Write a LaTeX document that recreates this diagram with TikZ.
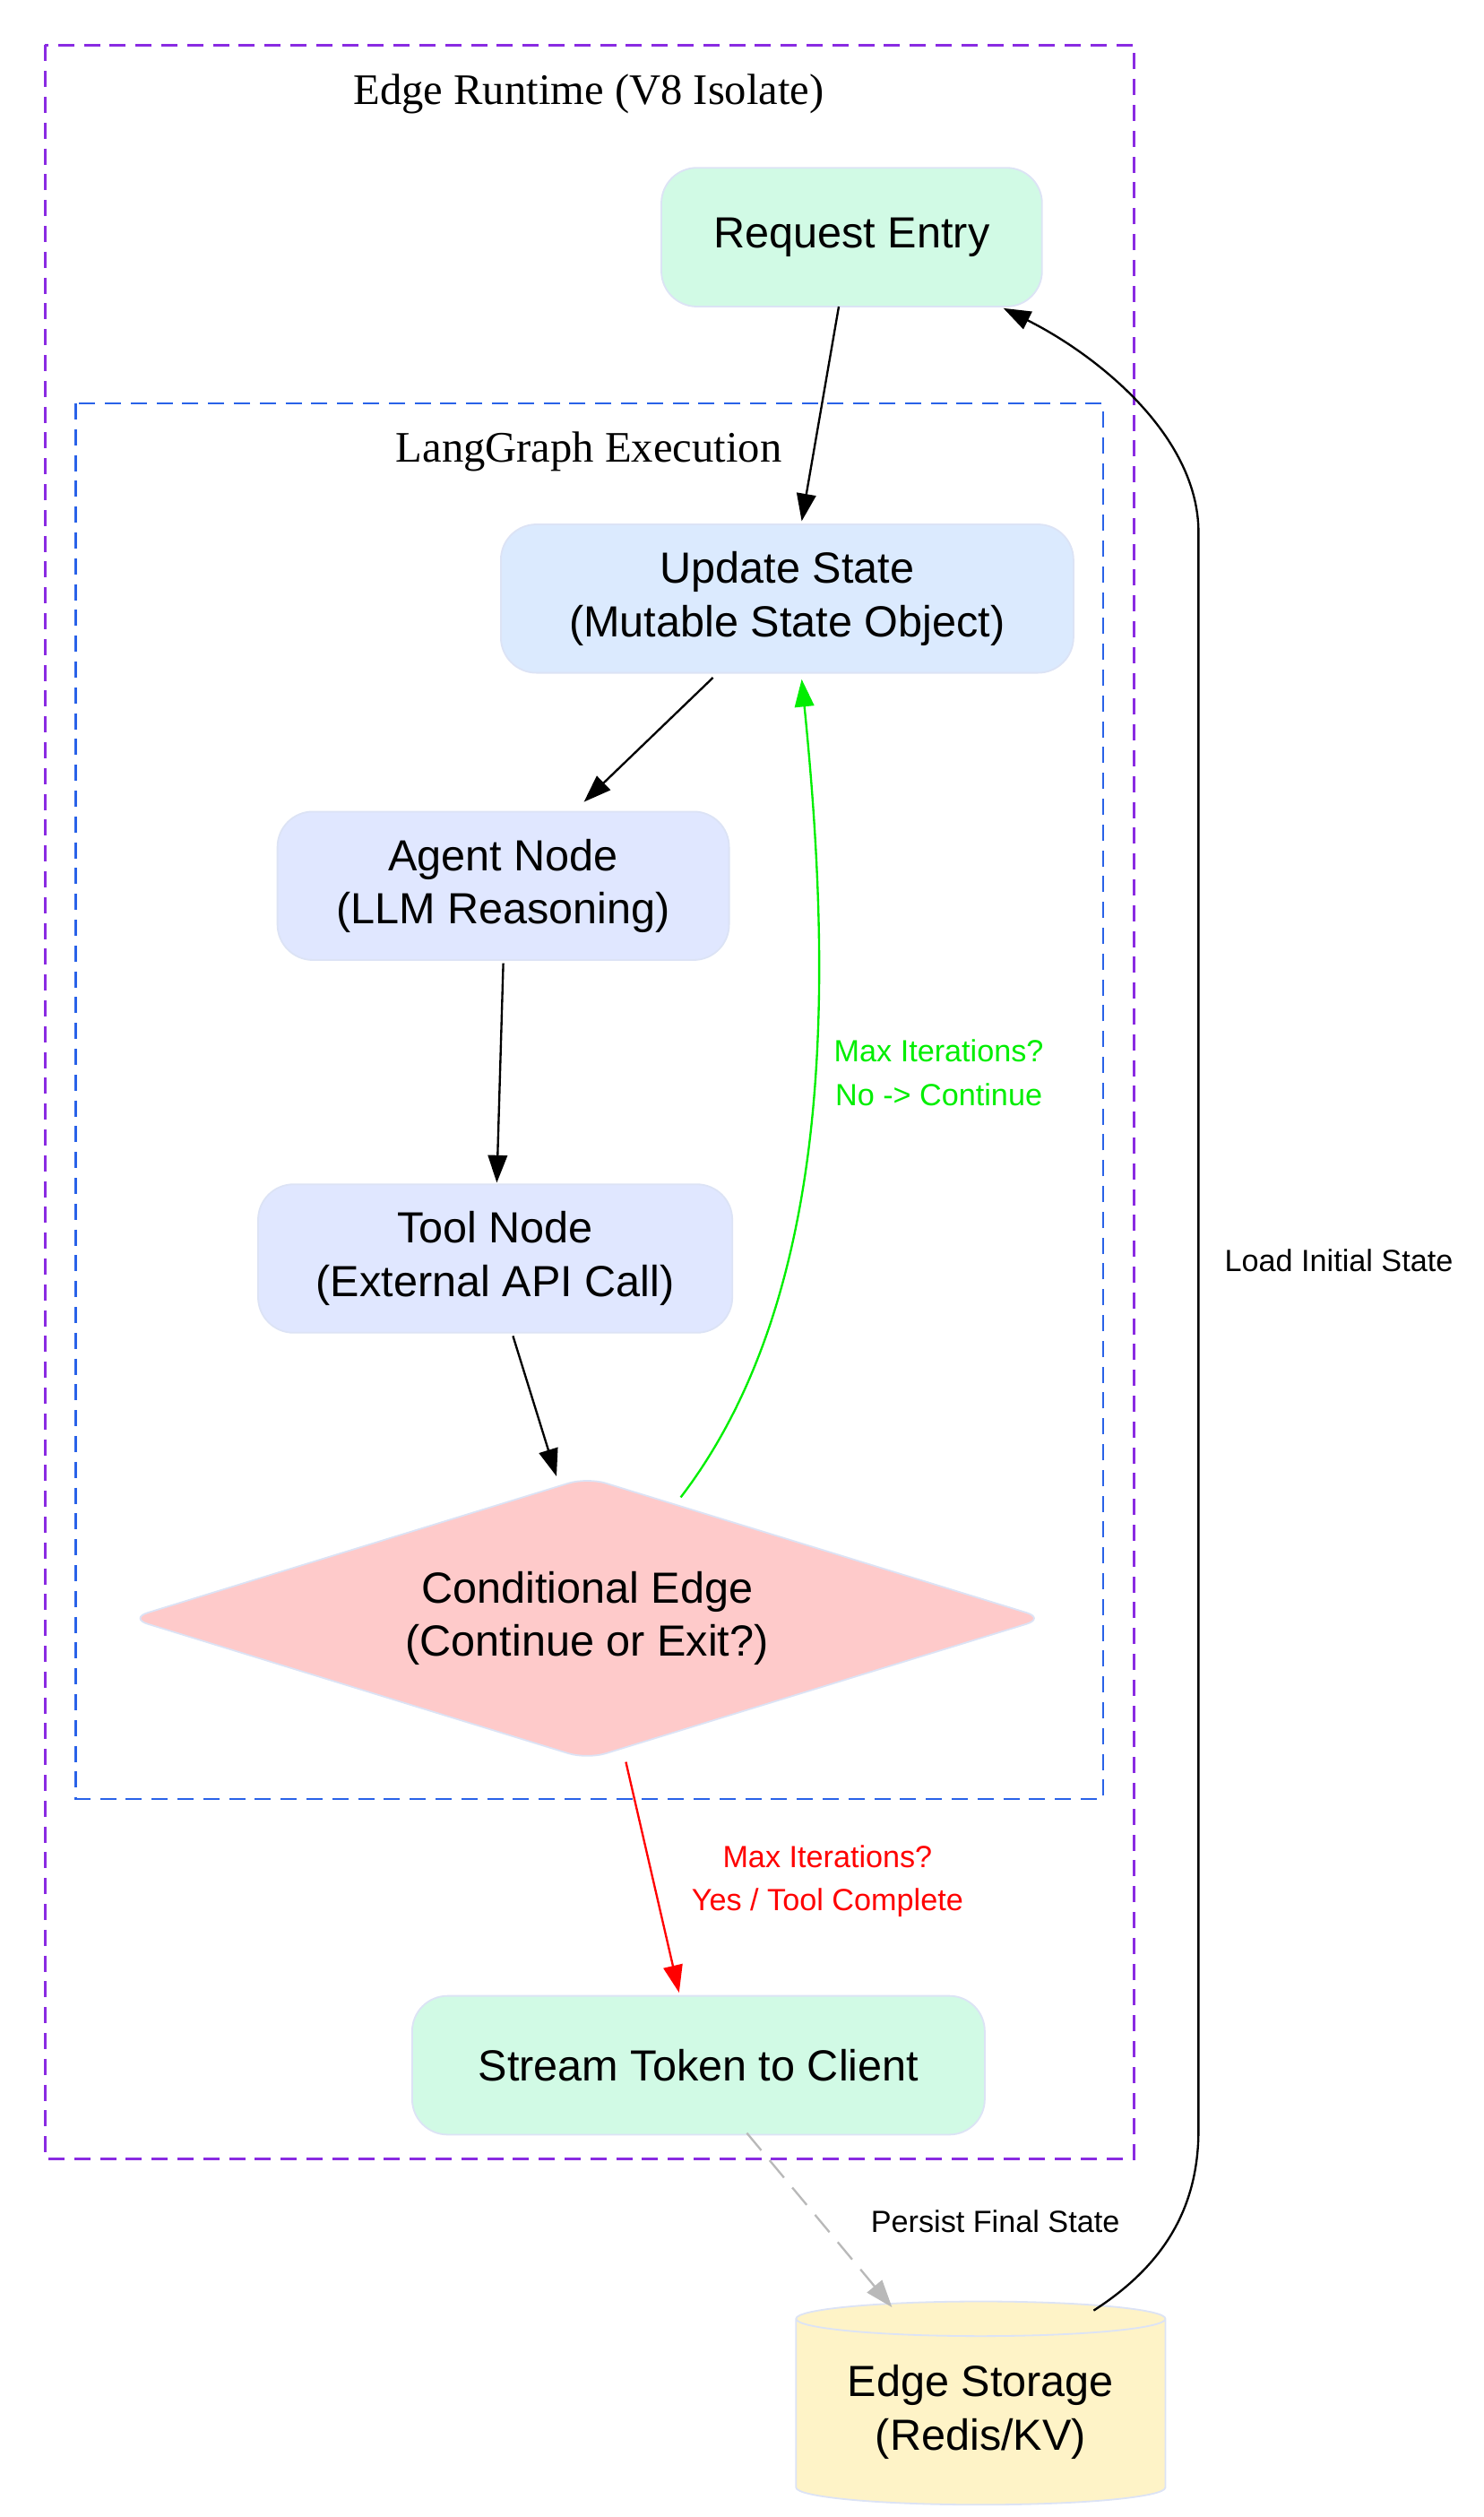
\documentclass[tikz,border=0pt]{standalone}
\usepackage{fontspec}
\setmainfont{Liberation Sans}
\newfontfamily\serif{Liberation Serif}
\usetikzlibrary{shapes.geometric,arrows.meta}
\definecolor{mint}{HTML}{D1FAE5}
\definecolor{lblue}{HTML}{DBEAFE}
\definecolor{lindigo}{HTML}{E0E7FF}
\definecolor{lred}{HTML}{FECACA}
\definecolor{lyel}{HTML}{FEF3C7}
\definecolor{bord}{HTML}{DCE3F5}
\definecolor{purp}{HTML}{8A2BE2}
\definecolor{blu}{HTML}{2962E8}
\definecolor{grn}{HTML}{00EE00}
\begin{document}
\begin{tikzpicture}[x=1pt,y=-1pt,
  box/.style={draw=bord,line width=1pt,rounded corners=22pt,align=center,font=\fontsize{27}{33}\selectfont,inner sep=0pt},
  elab/.style={font=\fontsize{19}{27}\selectfont,align=center},
  ar/.style={-{Triangle[length=17pt,width=12pt]},line width=1.3pt},
  clus/.style={dashed,dash pattern=on 10pt off 6pt,line width=1.3pt}]
\useasboundingbox (0,0) rectangle (920,1560);
\draw[clus,purp] (28,28) rectangle (703,1338);
\draw[clus,blu] (47,250) rectangle (684,1115);
\node[font=\serif\fontsize{27}{30}\selectfont] (t1) at (365,58) {Edge Runtime (V8 Isolate)};
\node[font=\serif\fontsize{27}{30}\selectfont] (t2) at (365,280) {LangGraph Execution};
\node[box,fill=mint,minimum width=236pt,minimum height=86pt] (req) at (528,147) {Request Entry};
\node[box,fill=lblue,minimum width=355pt,minimum height=92pt] (upd) at (488,371) {Update State\\(Mutable State Object)};
\node[box,fill=lindigo,minimum width=280pt,minimum height=92pt] (agent) at (312,549) {Agent Node\\(LLM Reasoning)};
\node[box,fill=lindigo,minimum width=294pt,minimum height=92pt] (tool) at (307,780) {Tool Node\\(External API Call)};
\node[draw=bord,line width=1pt,fill=lred,diamond,aspect=3.25,inner sep=0pt,minimum width=568pt,minimum height=175pt,rounded corners=12pt,align=center,font=\fontsize{27}{33}\selectfont] (cond) at (364,1003) {Conditional Edge\\(Continue or Exit?)};
\node[box,fill=mint,minimum width=355pt,minimum height=86pt] (stream) at (433,1280) {Stream Token to Client};
\node[draw=bord,line width=1pt,fill=lyel,cylinder,shape border rotate=90,aspect=0.13,minimum width=229pt,minimum height=126pt,inner sep=0pt,align=center,font=\fontsize{27}{33}\selectfont] (store) at (608,1495) {Edge Storage\\(Redis/KV)};
\coordinate (c1) at (420,190);
\draw[ar] (520,190) -- (497,323);
\draw[ar] (442,420) -- (362,497);
\draw[ar] (312,597) -- (308,733);
\draw[ar] (318,828) -- (345,915);
\draw[ar,grn] (422,928) .. controls (520,800) and (515,600) .. (497,421);
\node[elab,text=grn] (l1) at (582,665) {Max Iterations?\\No -> Continue};
\draw[ar,red] (388,1092) -- (421,1235);
\node[elab,text=red] (l2) at (513,1166) {Max Iterations?\\Yes / Tool Complete};
\draw[ar,gray!55,dashed,dash pattern=on 14pt off 8pt] (463,1322) -- (553,1430);
\node[elab] (l3) at (617,1377) {Persist Final State};
\draw[ar] (678,1432) .. controls (720,1405) and (743,1370) .. (743,1320) -- (743,330) .. controls (743,270) and (680,220) .. (622,191);
\node[elab] (l4) at (830,781) {Load Initial State};
\end{tikzpicture}
\end{document}
